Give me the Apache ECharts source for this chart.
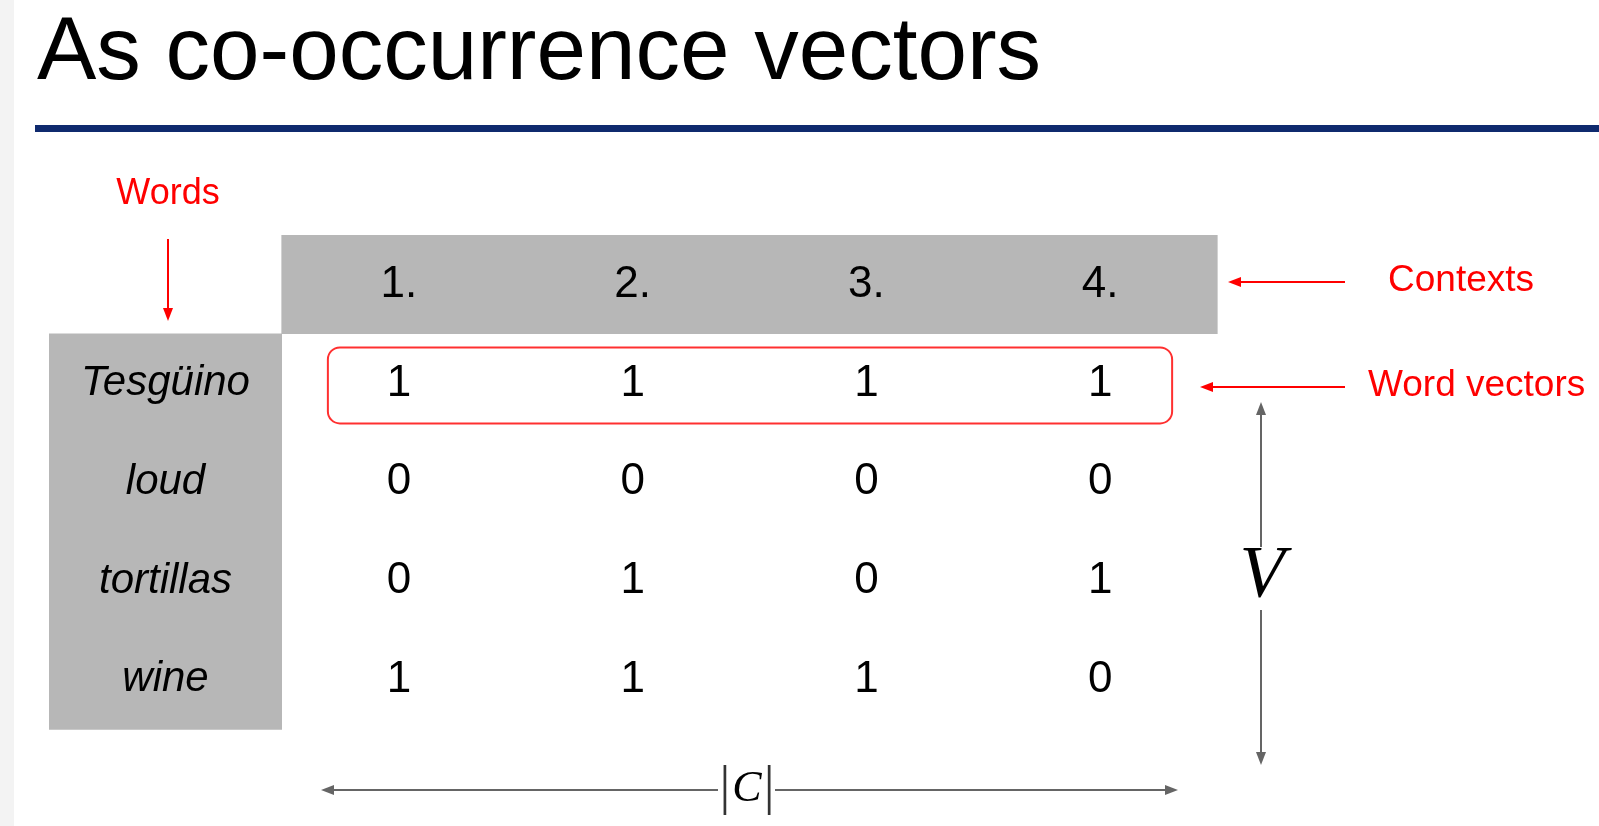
<!DOCTYPE html>
<html><head><meta charset="utf-8">
<script src="https://cdn.jsdelivr.net/npm/echarts@6/dist/echarts.min.js"></script>
<style>html,body{margin:0;padding:0;background:#fff}#c{width:1599px;height:826px}</style>
</head><body><div id="c"></div>
<script>
const titleText = 'As co-occurrence vectors';
const contexts = ['1.', '2.', '3.', '4.'];
const words = ['Tesgüino', 'loud', 'tortillas', 'wine'];
const tesguino = [1, 1, 1, 1];
const loud = [0, 0, 0, 0];
const tortillas = [0, 1, 0, 1];
const wine = [1, 1, 1, 0];
const rows = [tesguino, loud, tortillas, wine];

const cells = [];
rows.forEach((r, j) => r.forEach((v, i) => cells.push([contexts[i], words[j], v])));

const FONT = 'Liberation Sans, Arial, sans-serif';
const SERIF = 'Liberation Serif, DejaVu Serif, serif';
const GRAY = '#b7b7b7';
const RED = '#ff0000';
const ARROW = '#656565';

const chart = echarts.init(document.getElementById('c'), null, {renderer: 'canvas'});

function line(x1, y1, x2, y2, color, w) {
  return {type: 'line', z: 100, shape: {x1, y1, x2, y2}, style: {stroke: color, lineWidth: w}, silent: true};
}
function head(tx, ty, dx, dy, len, half, color) {
  const bx = tx - dx * len, by = ty - dy * len;
  const px = -dy * half, py = dx * half;
  return {type: 'polygon', z: 100, shape: {points: [[tx, ty], [bx + px, by + py], [bx - px, by - py]]},
    style: {fill: color}, silent: true};
}
function txt(text, x, y, size, color, family, extra) {
  return {type: 'text', z: 100, silent: true, style: Object.assign({
    text, x, y, fontSize: size, fontFamily: family, fill: color,
    align: 'left', verticalAlign: 'middle'}, extra || {})};
}

const option = {
  backgroundColor: '#ffffff',
  animation: false,
  title: {
    text: titleText, left: 32, top: 5,
    textStyle: {fontSize: 89, fontWeight: 'normal', color: '#000', fontFamily: FONT}
  },
  grid: {left: 282, top: 334, width: 935, height: 395, outerBoundsMode: 'none', containLabel: false},
  xAxis: {
    type: 'category', position: 'top', data: contexts,
    axisLine: {show: false}, axisTick: {show: false}, splitLine: {show: false},
    axisLabel: {
      interval: 0, margin: 49.5, align: 'center', verticalAlign: 'middle',
      width: 235, height: 99, lineHeight: 99, backgroundColor: GRAY,
      fontSize: 44, color: '#000', fontFamily: FONT
    }
  },
  yAxis: {
    type: 'category', data: words, inverse: true,
    axisLine: {show: false}, axisTick: {show: false}, splitLine: {show: false},
    axisLabel: {
      interval: 0, margin: 116.5, align: 'center', verticalAlign: 'middle',
      width: 233, height: 100, lineHeight: 100, backgroundColor: GRAY,
      fontSize: 42, fontStyle: 'italic', color: '#000', fontFamily: FONT
    }
  },
  series: [{
    type: 'heatmap', data: cells,
    itemStyle: {color: 'rgba(255,255,255,0)'},
    label: {show: true, formatter: p => String(p.value[2]), fontSize: 44, color: '#000', fontFamily: FONT},
    emphasis: {disabled: true}
  }]
};
chart.setOption(option);

const p0 = chart.convertToPixel({gridIndex: 0}, [contexts[0], words[0]]);
const p3 = chart.convertToPixel({gridIndex: 0}, [contexts[contexts.length - 1], words[0]]);

const graphics = [
  {type: 'rect', z: -10, shape: {x: 0, y: 0, width: 14, height: 826}, style: {fill: '#f3f3f3'}, silent: true},
  {type: 'rect', z: 100, shape: {x: 35, y: 125, width: 1564, height: 7}, style: {fill: '#0f2a6e'}, silent: true},
  {type: 'rect', z: 100, silent: true,
    shape: {x: p0[0] - 71, y: p0[1] - 36, width: p3[0] - p0[0] + 143, height: 76, r: 12},
    style: {fill: 'none', stroke: '#ff3030', lineWidth: 2}},
  txt('Words', 168, 194, 36, RED, FONT, {align: 'center'}),
  line(168, 239, 168, 310, RED, 2), head(168, 321, 0, 1, 13, 5, RED),
  line(1345, 282, 1238, 282, RED, 2), head(1228, 282, -1, 0, 13, 5, RED),
  txt('Contexts', 1388, 281, 37, RED, FONT),
  line(1345, 387, 1210, 387, RED, 2), head(1200, 387, -1, 0, 13, 5, RED),
  txt('Word vectors', 1368, 386, 37, RED, FONT),
  line(1261, 412, 1261, 547, ARROW, 2), head(1261, 402, 0, -1, 13, 5, ARROW),
  line(1261, 610, 1261, 755, ARROW, 2), head(1261, 765, 0, 1, 13, 5, ARROW),
  txt('V', 1262, 578, 74, '#000', SERIF, {align: 'center', fontStyle: 'italic'}),
  line(331, 790, 718, 790, ARROW, 2), head(321, 790, -1, 0, 13, 5, ARROW),
  line(775, 790, 1168, 790, ARROW, 2), head(1178, 790, 1, 0, 13, 5, ARROW),
  {type: 'text', z: 100, silent: true, style: {
    text: '{b||}{c|C}{b||}', x: 747, y: 789, align: 'center', verticalAlign: 'middle',
    rich: {
      b: {fontSize: 54, fontFamily: SERIF, fill: '#333', padding: [0, 2, 0, 2]},
      c: {fontSize: 44, fontFamily: SERIF, fontStyle: 'italic', fill: '#000'}
    }}}
];
chart.setOption({graphic: graphics});
</script></body></html>
